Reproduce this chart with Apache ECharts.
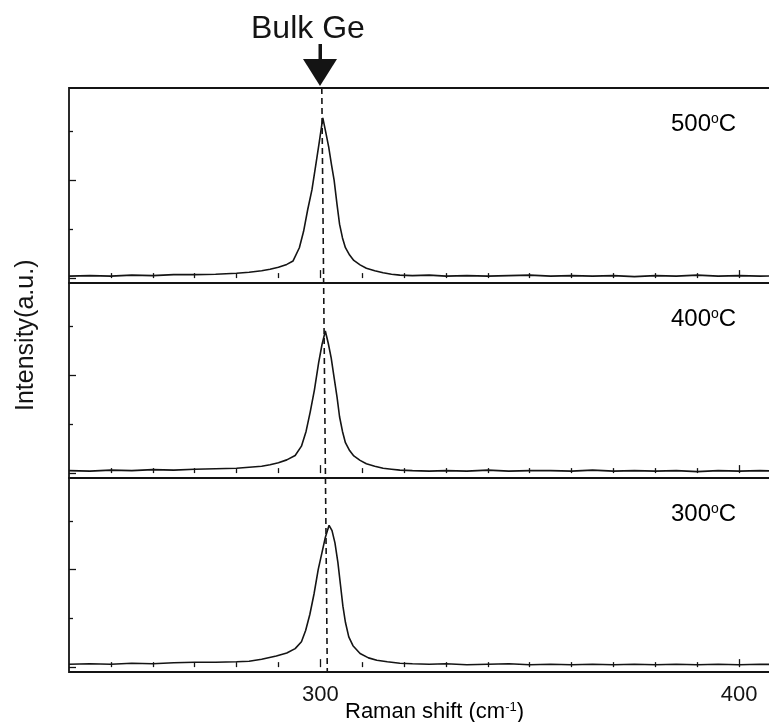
<!DOCTYPE html>
<html>
<head>
<meta charset="utf-8">
<script src="https://cdn.jsdelivr.net/npm/echarts@6/dist/echarts.min.js"></script>
<style>html,body{margin:0;padding:0;background:#fff}#main{width:769px;height:722px}</style>
</head>
<body>
<div id="main"></div>
<script>
// Raman spectra, three anneal temperatures (top to bottom: 500, 400, 300 C)
var panelNames = ['500', '400', '300'];

var shift500 = [240,245,250,255,260,265,270,275,280,283,286,288,290,292,293.5,295,296,297,298,299,299.8,300.6,301.3,302,302.7,303.3,304,304.6,305.3,306,307,308,309.5,311,313,315,317,319,322,326,330,335,340,345,350,355,360,365,370,375,380,385,390,395,400,405,410];
var int500 = [0.04,0.05,0.04,0.06,0.05,0.07,0.07,0.08,0.10,0.12,0.15,0.18,0.22,0.28,0.35,0.62,0.95,1.40,1.80,2.35,2.80,3.27,2.98,2.68,2.30,2.00,1.50,1.10,0.82,0.62,0.47,0.36,0.27,0.20,0.15,0.11,0.08,0.06,0.05,0.06,0.04,0.05,0.04,0.05,0.06,0.04,0.05,0.04,0.05,0.03,0.05,0.04,0.06,0.04,0.05,0.04,0.05];

var shift400 = [240,245,250,255,260,265,270,275,280,283,286,288,290,292,294,295.5,296.6,297.6,298.6,299.6,300.4,301.2,301.9,302.6,303.3,304,304.6,305.3,306,307,308,309.5,311,313,315,317,319,322,326,330,335,340,345,350,355,360,365,370,375,380,385,390,395,400,405,410];
var int400 = [0.05,0.04,0.06,0.05,0.07,0.06,0.08,0.09,0.10,0.12,0.14,0.17,0.21,0.27,0.36,0.55,0.85,1.25,1.70,2.25,2.62,2.90,2.65,2.35,1.95,1.55,1.15,0.85,0.62,0.46,0.35,0.26,0.19,0.14,0.10,0.08,0.06,0.05,0.04,0.05,0.04,0.06,0.04,0.05,0.05,0.04,0.06,0.04,0.05,0.04,0.05,0.03,0.05,0.04,0.05,0.04];

var shift300 = [240,245,250,255,260,265,270,275,280,283,286,289.5,292,294,295.5,296.5,297.5,298.5,299.5,300.4,301.2,302.1,302.8,303.5,304.2,304.8,305.4,306,306.8,307.8,309.5,311.5,313.5,316,319,322,326,330,335,340,345,350,355,360,365,370,375,380,385,390,395,400,405,410];
var int300 = [0.06,0.07,0.06,0.08,0.07,0.09,0.10,0.10,0.11,0.12,0.16,0.23,0.29,0.38,0.52,0.75,1.08,1.50,2.00,2.35,2.66,2.91,2.80,2.55,2.15,1.70,1.25,0.92,0.62,0.44,0.28,0.19,0.14,0.11,0.08,0.07,0.06,0.07,0.05,0.06,0.07,0.05,0.06,0.05,0.06,0.05,0.06,0.05,0.06,0.05,0.06,0.05,0.06,0.05];

// bulk Ge reference line (drawn slightly slanted, as in the figure)
var bulkLine = [[300.36, 1], [301.67, 0]];

var majorTicksX = [300, 400];
var minorTicksX = [250,260,270,280,290,310,320,330,340,350,360,370,380,390,410];
var majorTicksY = [0, 2];
var minorTicksY = [1, 3];

var shifts = [shift500, shift400, shift300];
var ints = [int500, int400, int300];

var FONT = 'Liberation Sans, Arial, sans-serif';
var INK = '#141414';

var chart = echarts.init(document.getElementById('main'));

var gridTops = [88, 283, 478];
var gridHeights = [195, 195, 194];
var gridLeft = 69, gridWidth = 712; // right border falls outside the picture

var grids = [], xAxes = [], yAxes = [], series = [];
for (var i = 0; i < 3; i++) {
    grids.push({left: gridLeft, width: gridWidth, top: gridTops[i], height: gridHeights[i],
        show: true, borderColor: INK, borderWidth: 1.8, containLabel: false, outerBoundsMode: 'none'});
    var last = (i === 2);
    // major x ticks (+ labels on the bottom panel)
    xAxes.push({type: 'value', gridIndex: i, position: 'bottom', min: 240, max: 410,
        axisLine: {show: false}, splitLine: {show: false},
        axisTick: {show: true, inside: true, length: 8, customValues: majorTicksX, lineStyle: {color: INK, width: 1.3}},
        axisLabel: {show: last, customValues: majorTicksX, fontSize: 22, color: INK, fontFamily: FONT, margin: 12}});
    // minor x ticks
    xAxes.push({type: 'value', gridIndex: i, position: 'bottom', min: 240, max: 410,
        axisLine: {show: false}, splitLine: {show: false},
        axisTick: {show: true, inside: true, length: 5, customValues: minorTicksX, lineStyle: {color: INK, width: 1.3}},
        axisLabel: {show: false}});
    yAxes.push({type: 'value', gridIndex: i, position: 'left', min: -0.1, max: 3.88,
        axisLine: {show: false}, splitLine: {show: false},
        axisTick: {show: true, inside: true, length: 7, customValues: majorTicksY, lineStyle: {color: INK, width: 1.3}},
        axisLabel: {show: false}});
    yAxes.push({type: 'value', gridIndex: i, position: 'left', min: -0.1, max: 3.88,
        axisLine: {show: false}, splitLine: {show: false},
        axisTick: {show: true, inside: true, length: 4, customValues: minorTicksY, lineStyle: {color: INK, width: 1.3}},
        axisLabel: {show: false}});
    series.push({type: 'line', name: panelNames[i], xAxisIndex: i * 2, yAxisIndex: i * 2,
        data: shifts[i].map(function (x, k) { return [x, ints[i][k]]; }),
        symbol: 'none', smooth: false, lineStyle: {color: INK, width: 1.6}});
}

// overlay grid for the dashed reference line
grids.push({left: gridLeft, width: gridWidth, top: 88, height: 584, show: false, outerBoundsMode: 'none'});
xAxes.push({type: 'value', gridIndex: 3, min: 240, max: 410, show: false});
yAxes.push({type: 'value', gridIndex: 3, min: 0, max: 1, show: false});
series.push({type: 'line', xAxisIndex: 6, yAxisIndex: 6, data: bulkLine, symbol: 'none',
    lineStyle: {color: INK, width: 1.6, type: [6, 4]}, z: 5});

var norm = {fontSize: 24, fontFamily: FONT, color: INK};
var sup = {fontSize: 14, fontFamily: FONT, color: INK, verticalAlign: 'top'};

var graphics = [];
for (var j = 0; j < 3; j++) {
    graphics.push({type: 'text', left: 671, top: gridTops[j] + 24,
        style: {text: '{n|' + panelNames[j] + '}{s|o}{n|C}', rich: {n: norm, s: sup}}});
}
graphics.push({type: 'text', left: 345, top: 701,
    style: {text: '{n|Raman shift (cm}{s|-1}{n|)}',
        rich: {n: {fontSize: 22, fontFamily: FONT, color: INK}, s: {fontSize: 13, fontFamily: FONT, color: INK, verticalAlign: 'top'}}}});
graphics.push({type: 'text', x: 14, y: 411, rotation: Math.PI / 2,
    style: {text: 'Intensity(a.u.)', fontSize: 25, fontFamily: FONT, fill: INK}});
graphics.push({type: 'text', left: 251, top: 13,
    style: {text: 'Bulk Ge', fontSize: 32, fontFamily: FONT, fill: INK}});
graphics.push({type: 'rect', shape: {x: 318.5, y: 44, width: 3.5, height: 17}, style: {fill: INK}});
graphics.push({type: 'polygon', shape: {points: [[303, 59], [337, 59], [320, 86]]}, style: {fill: INK}});

chart.setOption({
    animation: false,
    backgroundColor: '#fff',
    grid: grids,
    xAxis: xAxes,
    yAxis: yAxes,
    series: series,
    graphic: graphics
});
</script>
</body>
</html>
